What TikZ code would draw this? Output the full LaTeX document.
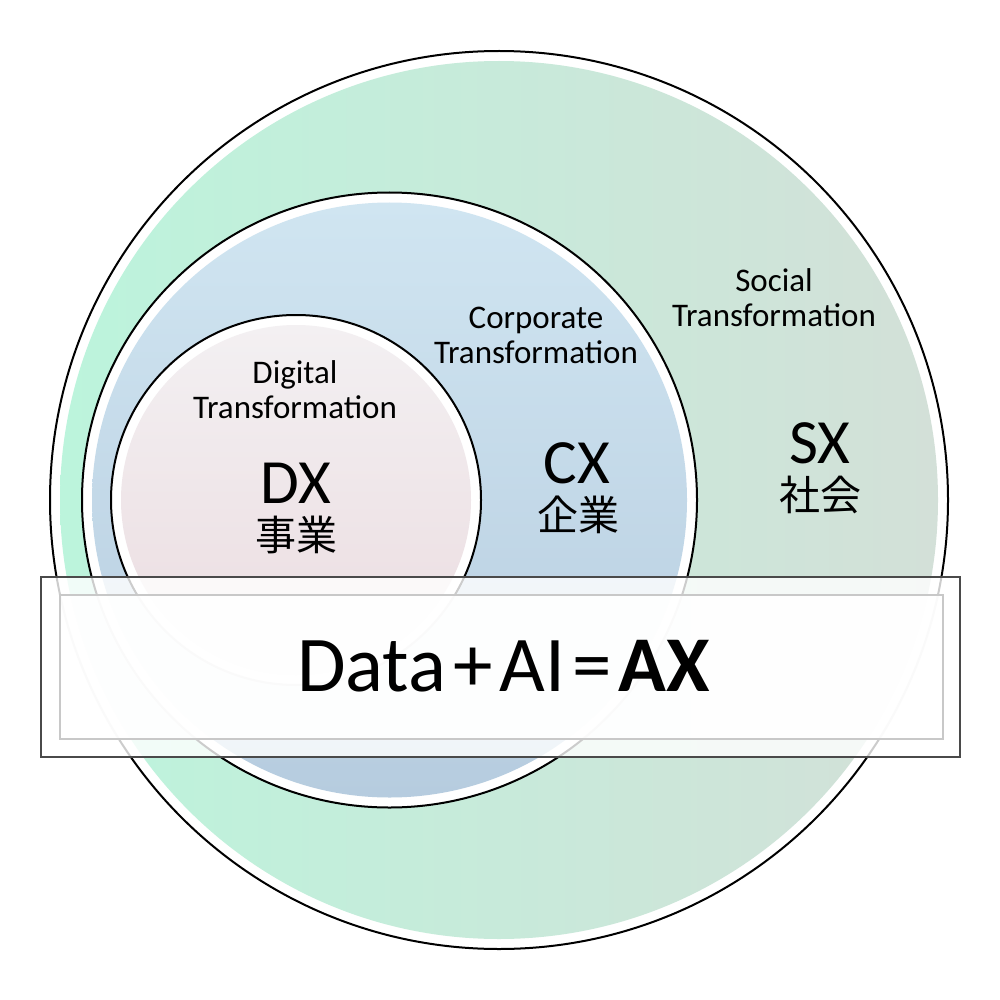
\documentclass[tikz,border=0pt]{standalone}
\usepackage{fontspec}
\setmainfont{Carlito}
\newfontfamily\cjk{Noto Sans CJK JP}
\definecolor{outerL}{HTML}{BCF4DC}
\definecolor{outerR}{HTML}{D3E0D8}
\definecolor{midTop}{HTML}{D0E5F1}
\definecolor{midBot}{HTML}{B6CCDF}
\definecolor{innTop}{HTML}{F3F0F2}
\definecolor{innBot}{HTML}{EBDCE0}
\definecolor{rectEdge}{HTML}{4A4A4A}
\definecolor{rectIn}{HTML}{C8C8C8}
\tikzset{
  ringline/.style={draw=black, line width=2pt, fill=white},
  small/.style={font=\fontsize{33}{35}\selectfont, align=center, inner sep=0pt, anchor=base},
  big/.style={font=\fontsize{63}{64}\selectfont, inner sep=0pt, anchor=base},
  kanji/.style={font=\cjk\fontsize{41}{41}\selectfont, inner sep=0pt, anchor=center},
  outerbox/.style={draw=rectEdge, line width=2pt, fill=white, fill opacity=0.8},
  innerbox/.style={draw=rectIn, line width=1.5pt, fill=white, fill opacity=0.9},
}
\newcommand{\eqgap}{\hspace{7pt}}
\begin{document}
\begin{tikzpicture}[x=1pt, y=-1pt]
\useasboundingbox (0,0) rectangle (1000,1000);
% outer circle (SX)
\draw[ringline] (499,500) circle (449);
\shade[left color=outerL, right color=outerR] (499,500) circle (439);
% middle circle (CX)
\draw[ringline] (389.5,500) circle (307.5);
\shade[top color=midTop, bottom color=midBot] (389.5,500) circle (297.5);
% inner circle (DX)
\draw[ringline] (296,500) circle (185);
\shade[top color=innTop, bottom color=innBot] (296,500) circle (175);
% labels
\node[small] (dt) at (295,418) {Digital\\Transformation};
\node[big] (dx) at (295.5,503) {DX};
\node[kanji] (dk) at (296,535) {事業};
\node[small] (ct) at (536,363) {Corporate\\Transformation};
\node[big] (cx) at (577,483) {CX};
\node[kanji] (ck) at (578,515) {企業};
\node[small] (st) at (774,326) {Social\\Transformation};
\node[big] (sx) at (820,463) {SX};
\node[kanji] (sk) at (820,494.5) {社会};
% overlay box
\draw[outerbox] (41,577) rectangle (960,757);
\draw[innerbox] (60,595) rectangle (943,739);
\node[font=\fontsize{79}{80}\selectfont, inner sep=0pt, anchor=base] (eq) at (503.5,691) {Data\eqgap+\eqgap AI\eqgap=\eqgap\textbf{AX}};
\end{tikzpicture}
\end{document}
